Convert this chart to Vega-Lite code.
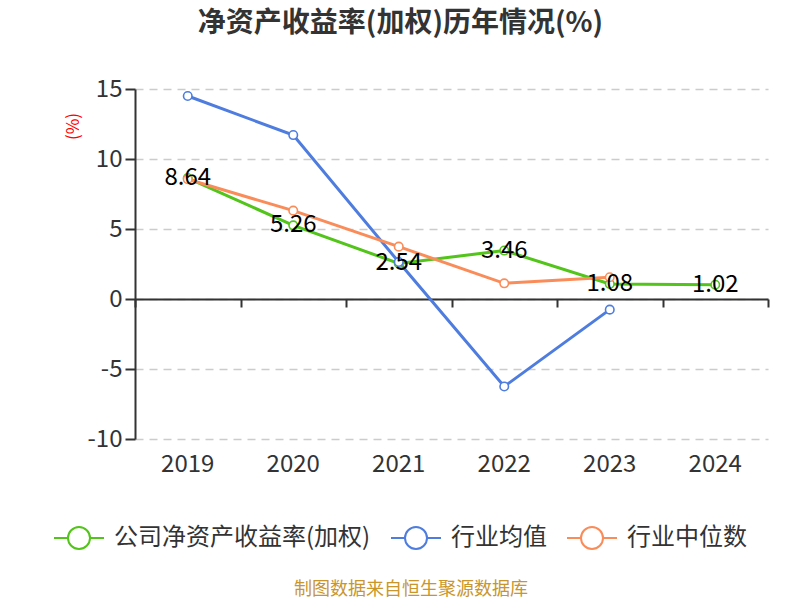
{
  "$schema": "https://vega.github.io/schema/vega-lite/v6.json",
  "background": "white",
  "padding": {"left": 53, "top": 10, "right": 5, "bottom": 0},
  "title": {
    "text": "制图数据来自恒生聚源数据库",
    "orient": "bottom",
    "fontSize": 18,
    "fontWeight": "normal",
    "color": "#c9962b",
    "anchor": "middle",
    "offset": 28
  },
  "datasets": {
    "roe": [
      {"year": "2019", "series": "公司净资产收益率(加权)", "value": 8.64},
      {"year": "2020", "series": "公司净资产收益率(加权)", "value": 5.26},
      {"year": "2021", "series": "公司净资产收益率(加权)", "value": 2.54},
      {"year": "2022", "series": "公司净资产收益率(加权)", "value": 3.46},
      {"year": "2023", "series": "公司净资产收益率(加权)", "value": 1.08},
      {"year": "2024", "series": "公司净资产收益率(加权)", "value": 1.02},
      {"year": "2019", "series": "行业均值", "value": 14.5},
      {"year": "2020", "series": "行业均值", "value": 11.71},
      {"year": "2021", "series": "行业均值", "value": 2.64},
      {"year": "2022", "series": "行业均值", "value": -6.25},
      {"year": "2023", "series": "行业均值", "value": -0.76},
      {"year": "2019", "series": "行业中位数", "value": 8.55},
      {"year": "2020", "series": "行业中位数", "value": 6.31},
      {"year": "2021", "series": "行业中位数", "value": 3.74},
      {"year": "2022", "series": "行业中位数", "value": 1.12},
      {"year": "2023", "series": "行业中位数", "value": 1.55}
    ]
  },
  "vconcat": [
    {
      "width": 633,
      "height": 350,
      "title": {
        "text": "净资产收益率(加权)历年情况(%)",
        "fontSize": 28,
        "fontWeight": "bold",
        "color": "#333333",
        "anchor": "middle",
        "frame": "group",
        "dx": -51,
        "offset": 39
      },
      "data": {"name": "roe"},
      "encoding": {
        "x": {
          "field": "year",
          "type": "ordinal",
          "bandPosition": 0.5,
          "scale": {"type": "band", "paddingInner": 0, "paddingOuter": 0}
        },
        "y": {
          "field": "value",
          "type": "quantitative",
          "scale": {"domain": [-10, 15], "nice": false, "zero": false},
          "axis": {
            "title": "(%)",
            "titleColor": "#ff0000",
            "titleFontSize": 17,
            "titleFontWeight": "normal",
            "titleAngle": -90,
            "titleAlign": "center",
            "titleBaseline": "middle",
            "titleX": -62,
            "titleY": 37,
            "values": [-10, -5, 0, 5, 10, 15],
            "labelExpr": "'' + datum.value",
            "labelFontSize": 24,
            "labelColor": "#333333",
            "labelPadding": 3,
            "domainColor": "#333333",
            "domainWidth": 2,
            "tickColor": "#333333",
            "tickWidth": 2,
            "tickSize": 10,
            "grid": true,
            "gridColor": "#cccccc",
            "gridDash": [8, 6],
            "gridWidth": 1.5
          }
        },
        "color": {
          "field": "series",
          "type": "nominal",
          "scale": {
            "domain": ["公司净资产收益率(加权)", "行业均值", "行业中位数"],
            "range": ["#52c41a", "#4e7ddf", "#fa8c5a"]
          },
          "legend": {
            "title": null,
            "orient": "none",
            "legendX": -82,
            "legendY": 423,
            "direction": "horizontal",
            "symbolType": "M-1,0L-0.44,0M0.44,0L1,0M0.44,0A0.44,0.44,0,1,1,-0.44,0A0.44,0.44,0,1,1,0.44,0",
            "symbolSize": 2500,
            "symbolStrokeWidth": 2,
            "symbolFillColor": "white",
            "labelFontSize": 24,
            "labelColor": "#333333",
            "labelLimit": 400,
            "labelOffset": 9,
            "columnPadding": 16
          }
        }
      },
      "layer": [
        {
          "mark": {"type": "line", "strokeWidth": 3},
          "encoding": {
            "x": {
              "field": "year",
              "type": "ordinal",
              "bandPosition": 0.5,
              "axis": {
                "orient": "bottom",
                "title": null,
                "domain": false,
                "ticks": false,
                "labelAngle": 0,
                "labelFontSize": 24,
                "labelColor": "#333333",
                "labelPadding": 13,
                "grid": false
              }
            }
          }
        },
        {
          "mark": {"type": "point", "filled": false, "fill": "white", "size": 72, "strokeWidth": 1.6, "opacity": 1},
          "encoding": {
            "x": {
              "field": "year",
              "type": "ordinal",
              "bandPosition": 0.5,
              "axis": {
                "orient": "bottom",
                "offset": -140,
                "title": null,
                "labels": false,
                "domain": true,
                "domainColor": "#333333",
                "domainWidth": 2,
                "ticks": true,
                "tickBand": "extent",
                "tickColor": "#333333",
                "tickWidth": 2,
                "tickSize": 8,
                "grid": false
              }
            }
          }
        },
        {
          "transform": [{"filter": "datum.series === '公司净资产收益率(加权)'"}],
          "mark": {"type": "text", "fontSize": 24, "dy": 0, "baseline": "middle"},
          "encoding": {
            "x": {"field": "year", "type": "ordinal", "bandPosition": 0.5, "axis": null},
            "text": {"field": "value", "type": "quantitative", "format": ".2f"},
            "color": {"value": "black"}
          }
        }
      ],
      "resolve": {"axis": {"x": "independent"}}
    }
  ],
  "config": {
    "font": "Noto Sans CJK SC",
    "view": {"stroke": null},
    "concat": {"spacing": 0}
  }
}
